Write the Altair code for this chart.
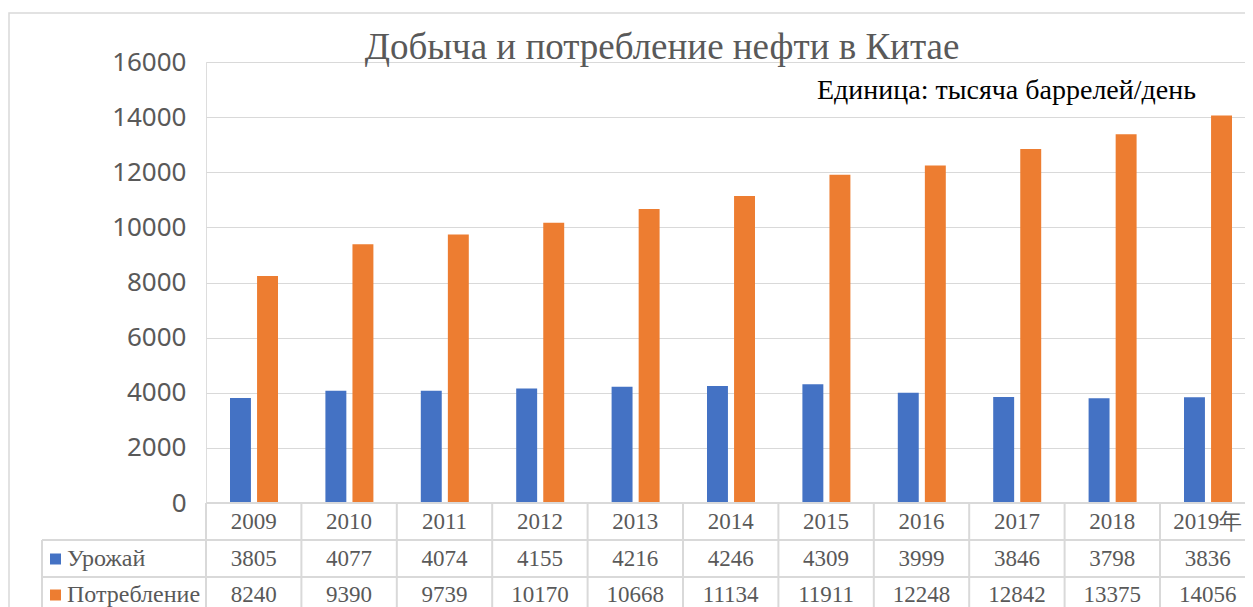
import altair as alt
import pandas as pd

years = ["2009", "2010", "2011", "2012", "2013", "2014", "2015", "2016", "2017", "2018", "2019年"]
production = [3805, 4077, 4074, 4155, 4216, 4246, 4309, 3999, 3846, 3798, 3836]
consumption = [8240, 9390, 9739, 10170, 10668, 11134, 11911, 12248, 12842, 13375, 14056]
series = ["Урожай", "Потребление"]
colors = ["#4472C4", "#ED7D31"]
y_ticks = [0, 2000, 4000, 6000, 8000, 10000, 12000, 14000, 16000]
title_text = "Добыча и потребление нефти в Китае"
unit_text = "Единица: тысяча баррелей/день"

PAD_L = 198
W = 1049.4     # full width of the 11 category bands (partly beyond the window)
VIEW_W = 1039  # visible view width
H = 441
GREY = "#d9d9d9"
TXT = "#595959"
SERIF = "Liberation Serif"
OX = 208 - (8 + PAD_L)  # shift so that fixed left-side items stay at reference spots

bars_df = pd.DataFrame(
    [{"year": y, "series": series[0], "value": v} for y, v in zip(years, production)]
    + [{"year": y, "series": series[1], "value": v} for y, v in zip(years, consumption)]
)
years_df = pd.DataFrame({"year": years})
prod_df = pd.DataFrame({"year": years, "value": production})
cons_df = pd.DataFrame({"year": years, "value": consumption})
one = pd.DataFrame({"k": [0]})

xscale = alt.Scale(domain=years, range=[0, W], paddingInner=0, paddingOuter=0)
X = alt.X("year:N", sort=years, scale=xscale, axis=None)

border = alt.Chart(one).mark_rect(filled=False, stroke=GREY, strokeWidth=1.5).encode(
    x=alt.value(-199 + OX), x2=alt.value(W + 60), y=alt.value(-49), y2=alt.value(H + 200)
)

bars = alt.Chart(bars_df).mark_bar().encode(
    x=X,
    xOffset=alt.XOffset("series:N", sort=series,
                        scale=alt.Scale(domain=series, range=[24, 72], paddingInner=0.226, paddingOuter=0)),
    y=alt.Y("value:Q", scale=alt.Scale(domain=[0, 16000]),
            axis=alt.Axis(values=y_ticks, format="d", grid=True, gridColor=GREY, gridWidth=1,
                          domain=False, ticks=False, labelFont="Noto Sans", labelFontSize=26,
                          labelColor=TXT, labelPadding=20, title=None)),
    color=alt.Color("series:N", scale=alt.Scale(domain=series, range=colors), legend=None),
)

title = alt.Chart(one).mark_text(text=title_text, font=SERIF, fontSize=37, color=TXT,
                                 align="center", baseline="middle").encode(
    x=alt.value(454 + OX), y=alt.value(-14))
unit = alt.Chart(one).mark_text(text=unit_text, font=SERIF, fontSize=28, color="black",
                                align="right", baseline="middle").encode(
    x=alt.value(988 + OX), y=alt.value(29))

# table lines
hline0 = alt.Chart(one).mark_rule(color=GREY, strokeWidth=2).encode(
    x=alt.value(0), x2=alt.value(W), y=alt.value(H))
hline1 = alt.Chart(one).mark_rule(color=GREY, strokeWidth=2).encode(
    x=alt.value(-166 + OX), x2=alt.value(W), y=alt.value(H + 37))
hline2 = alt.Chart(one).mark_rule(color=GREY, strokeWidth=2).encode(
    x=alt.value(-166 + OX), x2=alt.value(W), y=alt.value(H + 74))
vleft = alt.Chart(one).mark_rule(color=GREY, strokeWidth=2).encode(
    x=alt.value(-166 + OX), y=alt.value(H + 37), y2=alt.value(H + 140))
vlines = alt.Chart(years_df).mark_rule(color=GREY, strokeWidth=2).encode(
    x=alt.X("year:N", sort=years, scale=xscale, axis=None, bandPosition=0),
    y=alt.value(H), y2=alt.value(H + 140))

header = alt.Chart(years_df).mark_text(font=SERIF, fontSize=23, color=TXT, baseline="middle").encode(
    x=alt.X("year:N", sort=years, scale=xscale, axis=None, bandPosition=0.5),
    y=alt.value(H + 19), text="year:N")


def row(df, name, color, ypx):
    vals = alt.Chart(df).mark_text(font=SERIF, fontSize=23, color=TXT, baseline="middle").encode(
        x=alt.X("year:N", sort=years, scale=xscale, axis=None, bandPosition=0.5),
        y=alt.value(ypx), text="value:Q")
    sq = alt.Chart(one).mark_square(size=121, color=color, opacity=1, filled=True).encode(
        x=alt.value(-152.5 + OX), y=alt.value(ypx))
    lab = alt.Chart(one).mark_text(text=name, font=SERIF, fontSize=24, color=TXT,
                                   align="left", baseline="middle").encode(
        x=alt.value(-141 + OX), y=alt.value(ypx))
    return [vals, sq, lab]


layers = [border, bars, title, unit, hline0, hline1, hline2, vleft, vlines, header]
layers += row(prod_df, series[0], colors[0], H + 56)
layers += row(cons_df, series[1], colors[1], H + 92)

chart = alt.layer(*layers).properties(
    width=VIEW_W, height=H,
    padding={"left": PAD_L, "top": 54, "right": 0, "bottom": 104},
    autosize=alt.AutoSizeParams(type="none"),
).configure_view(stroke=None).configure(background="white")

chart.save("out.html", embed_options={"renderer": "svg", "actions": False})
